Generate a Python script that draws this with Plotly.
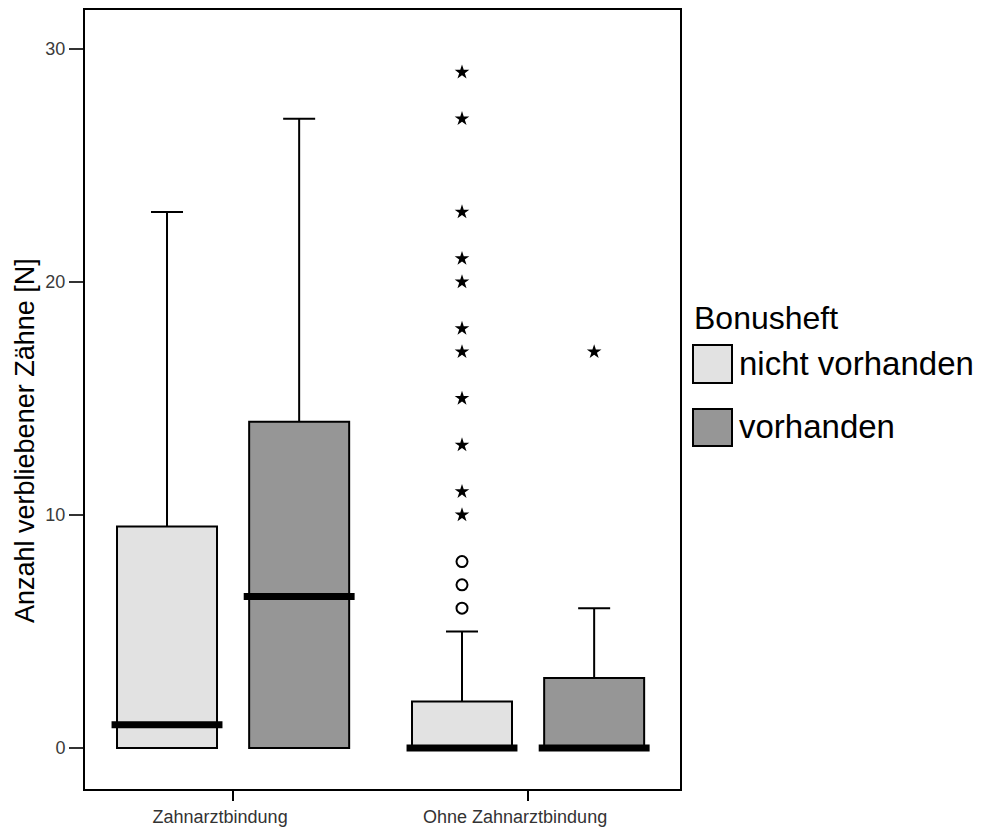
import plotly.graph_objects as go

# ---------------- data ----------------
categories = ["Zahnarztbindung", "Ohne Zahnarztbindung"]
groups = ["nicht vorhanden", "vorhanden"]
group_colors = ["#e2e2e2", "#969696"]

nicht_q1 = [0, 0]
nicht_median = [1, 0]
nicht_q3 = [9.5, 2]
nicht_lower = [0, 0]
nicht_upper = [23, 5]

vorh_q1 = [0, 0]
vorh_median = [6.5, 0]
vorh_q3 = [14, 3]
vorh_lower = [0, 0]
vorh_upper = [27, 6]

# outliers (circles) and extremes (stars), per category for each group
nicht_outliers = [[], [6, 7, 8]]
nicht_extremes = [[], [10, 11, 13, 15, 17, 18, 20, 21, 23, 27, 29]]
vorh_outliers = [[], []]
vorh_extremes = [[], [17]]

y_ticks = [0, 10, 20, 30]
y_title = "Anzahl verbliebener Zähne [N]"
legend_title = "Bonusheft"

# ---------------- layout constants ----------------
PAGE_OFF = 8            # default body margin of the page
W, H = 981 - PAGE_OFF, 830 - PAGE_OFF
L, R, T, B = 85 - PAGE_OFF, 301, 10 - PAGE_OFF, 41
offset = 0.224
box_w = 0.339
med_w = 0.376

font_main = "Arial, Liberation Sans, sans-serif"

fig = go.Figure()

series = [
    (groups[0], group_colors[0], -offset, nicht_q1, nicht_median, nicht_q3,
     nicht_lower, nicht_upper, nicht_outliers, nicht_extremes),
    (groups[1], group_colors[1], offset, vorh_q1, vorh_median, vorh_q3,
     vorh_lower, vorh_upper, vorh_outliers, vorh_extremes),
]

for name, color, off, q1, med, q3, lo, up, outs, exts in series:
    xs = [i + off for i in range(len(categories))]
    fig.add_trace(go.Box(
        name=name, x=xs, q1=q1, median=med, q3=q3,
        lowerfence=lo, upperfence=up,
        width=box_w, whiskerwidth=0.32,
        fillcolor=color, line=dict(color="black", width=2),
        boxpoints=False, showlegend=False, hoverinfo="skip",
    ))
    # thick median bars
    mx, my = [], []
    for x, m in zip(xs, med):
        mx += [x - med_w / 2, x + med_w / 2, None]
        my += [m, m, None]
    fig.add_trace(go.Scatter(
        x=mx, y=my, mode="lines", line=dict(color="black", width=7),
        showlegend=False, hoverinfo="skip",
    ))
    # outliers
    ox, oy = [], []
    for x, vals in zip(xs, outs):
        ox += [x] * len(vals)
        oy += vals
    if ox:
        fig.add_trace(go.Scatter(
            x=ox, y=oy, mode="markers",
            marker=dict(symbol="circle-open", size=11, color="black",
                        line=dict(width=2, color="black")),
            showlegend=False, hoverinfo="skip",
        ))
    ex, ey = [], []
    for x, vals in zip(xs, exts):
        ex += [x] * len(vals)
        ey += vals
    if ex:
        fig.add_trace(go.Scatter(
            x=ex, y=ey, mode="markers",
            marker=dict(symbol="star", size=11, color="black",
                        line=dict(width=0)),
            showlegend=False, hoverinfo="skip",
        ))

# ---------------- manual legend & title (page pixel -> paper) ----------------
pw = W - L - R
ph = H - T - B

def px(xp):
    return (xp - PAGE_OFF - L) / pw

def py(yp):
    return (H - B - (yp - PAGE_OFF)) / ph

shapes = []
annotations = []
annotations.append(dict(
    x=px(692), y=py(318), xref="paper", yref="paper",
    text=legend_title, showarrow=False, xanchor="left", yanchor="middle",
    font=dict(family=font_main, size=32, color="black"),
))
legend_rows = [(345, 383), (409, 446)]
for (y0, y1), name, color in zip(legend_rows, groups, group_colors):
    shapes.append(dict(
        type="rect", xref="paper", yref="paper",
        x0=px(693), x1=px(732), y0=py(y1), y1=py(y0),
        fillcolor=color, line=dict(color="black", width=2),
    ))
    annotations.append(dict(
        x=px(737), y=py((y0 + y1) / 2 - 1), xref="paper", yref="paper",
        text=name, showarrow=False, xanchor="left", yanchor="middle",
        font=dict(family=font_main, size=33, color="black"),
    ))

# y axis title
annotations.append(dict(
    x=px(25), y=py(441), xref="paper", yref="paper",
    text=y_title, textangle=-90, showarrow=False,
    xanchor="center", yanchor="middle",
    font=dict(family=font_main, size=27, color="black"),
))

fig.update_layout(
    width=W, height=H,
    margin=dict(l=L, r=R, t=T, b=B, autoexpand=False),
    paper_bgcolor="white", plot_bgcolor="white",
    font=dict(family=font_main, color="black"),
    shapes=shapes, annotations=annotations,
    showlegend=False,
)

fig.update_xaxes(
    range=[-0.502, 1.515],
    tickvals=list(range(len(categories))), ticktext=categories,
    ticks="outside", ticklen=10, tickwidth=2, tickcolor="black",
    tickfont=dict(family=font_main, size=18, color="#333333"),
    ticklabelshift=-13,
    showline=True, mirror=True, linewidth=2, linecolor="black",
    showgrid=False, zeroline=False,
)
fig.update_yaxes(
    range=[-1.76, 31.67],
    tickvals=y_ticks,
    ticks="outside", ticklen=14, tickwidth=1.5, tickcolor="#333333",
    tickfont=dict(family=font_main, size=18, color="#3a3a3a"),
    showline=True, mirror=True, linewidth=2, linecolor="black",
    showgrid=False, zeroline=False,
)

fig.write_html("out.html")
